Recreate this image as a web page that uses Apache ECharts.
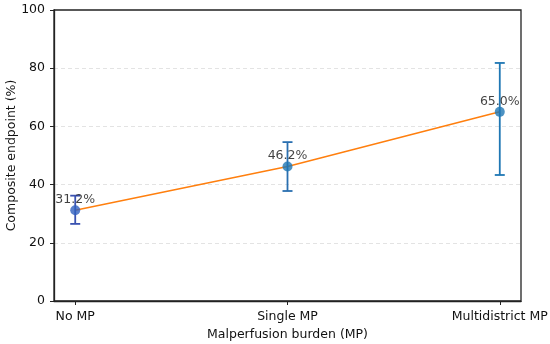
<!DOCTYPE html>
<html><head><meta charset="utf-8">
<script src="https://cdn.jsdelivr.net/npm/echarts@6/dist/echarts.min.js"></script>
<style>html,body{margin:0;padding:0;background:#fff}#c{width:550px;height:344px}</style>
</head><body><div id="c"></div>
<script>
const categories = ["No MP", "Single MP", "Multidistrict MP"];
const values = [31.2, 46.2, 65.0];
const lowerCI = [26.5, 37.8, 43.3];
const upperCI = [36.2, 54.6, 81.8];
const yTicks = [0, 20, 40, 60, 80, 100];
const pointColors = ["#2f5fbf", "#1f77b4", "#1f77b4"];
const barColors = ["#3a52b0", "#2a6fb0", "#1f77b4"];

const font = "DejaVu Sans";
const chart = echarts.init(document.getElementById('c'));
const idx = categories.map((_, i) => i);

chart.setOption({
  animation: false,
  grid: {left: 54, right: 29, top: 10, bottom: 43, outerBoundsMode: 'none', containLabel: false,
    show: true, borderColor: '#222', borderWidth: 1.3, backgroundColor: 'transparent'},
  xAxis: {
    type: 'value', min: -0.1, max: 2.1,
    name: 'Malperfusion burden (MP)', nameLocation: 'middle', nameGap: 25,
    nameTextStyle: {fontFamily: font, fontSize: 12.5, color: '#111'},
    axisLine: {show: true, onZero: false, lineStyle: {color: '#222', width: 1.3}},
    axisTick: {show: true, customValues: idx, length: 4, lineStyle: {color: '#222'}},
    axisLabel: {customValues: idx, formatter: v => categories[Math.round(v)], fontFamily: font, fontSize: 12.5, color: '#111', margin: 9},
    splitLine: {show: false}
  },
  yAxis: {
    type: 'value', min: 0, max: 100, interval: 20,
    name: 'Composite endpoint (%)', nameLocation: 'middle', nameGap: 36, nameMoveOverlap: false,
    nameTextStyle: {fontFamily: font, fontSize: 12.5, color: '#111'},
    axisLine: {show: true, onZero: false, lineStyle: {color: '#222', width: 1.3}},
    axisTick: {show: true, length: 4, lineStyle: {color: '#222'}},
    axisLabel: {fontFamily: font, fontSize: 12.5, color: '#111', margin: 9, customValues: yTicks},
    splitLine: {show: true, showMinLine: false, showMaxLine: false, lineStyle: {type: [4, 3], color: '#dcdcdc', width: 0.8}}
  },
  series: [
    {
      type: 'line', data: idx.map(i => [i, values[i]]), symbol: 'none',
      lineStyle: {color: '#ff7f0e', width: 1.5}, z: 2
    },
    {
      type: 'custom', z: 3,
      data: idx.map(i => [i, lowerCI[i], upperCI[i]]),
      renderItem: (params, api) => {
        const x = api.value(0);
        const lo = api.coord([x, api.value(1)]);
        const hi = api.coord([x, api.value(2)]);
        const c = barColors[params.dataIndex];
        const w = 5;
        const style = {stroke: c, lineWidth: 1.8};
        return {type: 'group', children: [
          {type: 'line', shape: {x1: lo[0], y1: lo[1], x2: hi[0], y2: hi[1]}, style},
          {type: 'line', shape: {x1: lo[0]-w, y1: lo[1], x2: lo[0]+w, y2: lo[1]}, style},
          {type: 'line', shape: {x1: hi[0]-w, y1: hi[1], x2: hi[0]+w, y2: hi[1]}, style}
        ]};
      }
    },
    {
      type: 'scatter', z: 4, symbolSize: 10,
      data: idx.map(i => ({value: [i, values[i]], itemStyle: {color: pointColors[i]}})),
      label: {show: true, position: 'top', distance: -1, formatter: p => values[p.dataIndex].toFixed(1) + '%',
        fontFamily: font, fontSize: 12.5, color: '#111'}
    }
  ]
});
</script></body></html>
